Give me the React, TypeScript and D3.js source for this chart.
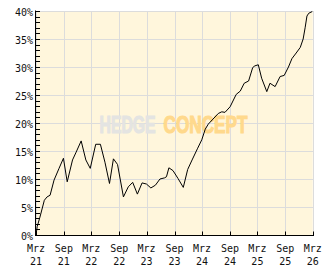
import React, { useLayoutEffect, useRef, useState } from "react";
import * as d3 from "d3";

const dates: string[] = [
  "2021-03-01","2021-03-09","2021-03-27","2021-04-25","2021-05-13","2021-06-02","2021-06-28","2021-07-31",
  "2021-08-29","2021-09-23","2021-10-28","2021-11-21","2021-12-24","2022-01-24","2022-02-22","2022-03-30",
  "2022-04-30","2022-05-30","2022-06-29","2022-07-25","2022-08-21","2022-09-29","2022-10-31","2022-11-29",
  "2022-12-30","2023-01-30","2023-02-28","2023-03-29","2023-04-28","2023-05-28","2023-06-27","2023-07-10",
  "2023-07-26","2023-08-22","2023-09-24","2023-10-29","2023-11-27","2023-12-26","2024-02-01","2024-02-28",
  "2024-03-22","2024-04-11","2024-05-12","2024-06-16","2024-07-09","2024-07-30","2024-09-02","2024-10-12",
  "2024-11-08","2024-12-04","2025-01-02","2025-01-29","2025-02-12","2025-03-07","2025-03-29","2025-05-02",
  "2025-05-23","2025-06-26","2025-07-29","2025-08-25","2025-09-22","2025-10-15","2025-11-12","2025-12-09",
  "2025-12-28","2026-01-10","2026-01-22","2026-02-03","2026-02-26"
];
const values: number[] = [
  0, 1.5, 3.2, 6.2, 6.8, 7.1, 9.8, 11.9,
  13.7, 9.5, 13.4, 14.8, 16.8, 13.4, 11.9, 16.2,
  16.2, 13.0, 9.2, 13.6, 12.6, 6.8, 8.6, 9.4,
  7.3, 9.3, 9.1, 8.4, 8.9, 10.0, 10.2, 10.4,
  12.0, 11.5, 10.1, 8.5, 11.7, 13.4, 15.5, 17.0,
  18.9, 19.8, 20.7, 21.7, 22.0, 21.9, 22.9, 25.1,
  25.7, 27.1, 27.5, 29.9, 30.2, 30.4, 28.0, 25.6,
  27.1, 26.5, 28.3, 28.5, 30.0, 31.5, 32.5, 33.5,
  35.0, 37.0, 39.1, 39.6, 39.9
];
const yTicks: number[] = [0, 5, 10, 15, 20, 25, 30, 35, 40];
const yMinor: number[] = d3.range(0, 41, 1);
const xTickDates: string[] = [
  "2021-03-01","2021-09-01","2022-03-01","2022-09-01","2023-03-01","2023-09-01",
  "2024-03-01","2024-09-01","2025-03-01","2025-09-01","2026-03-01"
];
const xTickMonth: string[] = ["Mrz","Sep","Mrz","Sep","Mrz","Sep","Mrz","Sep","Mrz","Sep","Mrz"];
const xTickYear: string[] = ["21","21","22","22","23","23","24","24","25","25","26"];

const W = 332, H = 269;
const L = 36, R = 312.7, T = 11, B = 235;

export default function App() {
  const parse = d3.utcParse("%Y-%m-%d");
  const x = d3.scaleUtc().domain([parse("2021-03-01")!, parse("2026-03-01")!]).range([L, R]);
  const y = d3.scaleLinear().domain([0, 40]).range([B, T]);
  const pts = dates.map((d, i) => [x(parse(d)!), y(values[i])] as [number, number]);
  const line = d3.line()(pts) || "";
  const px = (v: number) => Math.round(v) + 0.5;
  const font = "'DejaVu Sans Mono', monospace";

  const hRef = useRef<SVGTextElement>(null);
  const cRef = useRef<SVGTextElement>(null);
  const [sc, setSc] = useState<[number, number]>([0.8, 0.8]);
  useLayoutEffect(() => {
    const wh = hRef.current ? hRef.current.getComputedTextLength() : 0;
    const wc = cRef.current ? cRef.current.getComputedTextLength() : 0;
    if (wh > 0 && wc > 0) setSc([56 / wh, 84 / wc]);
  }, []);

  return (
    <svg width={W} height={H} style={{ position: "absolute", left: 0, top: 0, background: "#fff" }}>
      <rect x={L} y={T} width={R - L} height={B - T} fill="#fff6dc" />
      {yTicks.map((t) => (
        <line key={"gy" + t} x1={L} x2={px(R)} y1={px(y(t))} y2={px(y(t))} stroke="#dcdcdc" strokeWidth={1} />
      ))}
      {xTickDates.map((d) => (
        <line key={"gx" + d} x1={px(x(parse(d)!))} x2={px(x(parse(d)!))} y1={T} y2={B} stroke="#dcdcdc" strokeWidth={1} />
      ))}
      <g fontFamily="'Liberation Sans Narrow', 'Liberation Sans', sans-serif" fontWeight="bold" fontSize={24}>
        <g transform={`translate(99.5,132.5) scale(${sc[0]},1)`}>
          <text ref={hRef} x={0} y={0} fill="#e4e4e2" stroke="#e4e4e2" strokeWidth={1.2}>HEDGE</text>
        </g>
        <g transform={`translate(163.5,132.5) scale(${sc[1]},1)`}>
          <text ref={cRef} x={0} y={0} fill="#ffd98c" stroke="#ffd98c" strokeWidth={1.2}>CONCEPT</text>
        </g>
      </g>
      <path d={line} fill="none" stroke="#000" strokeWidth={1} />
      <line x1={35.5} x2={35.5} y1={T - 0.5} y2={B + 0.5} stroke="#000" />
      <line x1={35} x2={px(R) + 0.5} y1={B + 0.5} y2={B + 0.5} stroke="#000" />
      {yMinor.map((t) => (
        <line key={"my" + t} x1={36} x2={40} y1={px(y(t))} y2={px(y(t))} stroke="#000" />
      ))}
      {xTickDates.map((d) => (
        <line key={"tx" + d} x1={px(x(parse(d)!))} x2={px(x(parse(d)!))} y1={B + 0.5} y2={B - 3.5} stroke="#000" />
      ))}
      <g fontFamily={font} fontSize={10} fill="#111">
        {yTicks.map((t) => (
          <text key={"ly" + t} x={33} y={y(t) + 4.5} textAnchor="end">{t + "%"}</text>
        ))}
        {xTickDates.map((d, i) => (
          <text key={"lx" + d} x={x(parse(d)!)} y={252} textAnchor="middle">{xTickMonth[i]}</text>
        ))}
        {xTickDates.map((d, i) => (
          <text key={"ly2" + d} x={x(parse(d)!)} y={265} textAnchor="middle">{xTickYear[i]}</text>
        ))}
      </g>
    </svg>
  );
}
